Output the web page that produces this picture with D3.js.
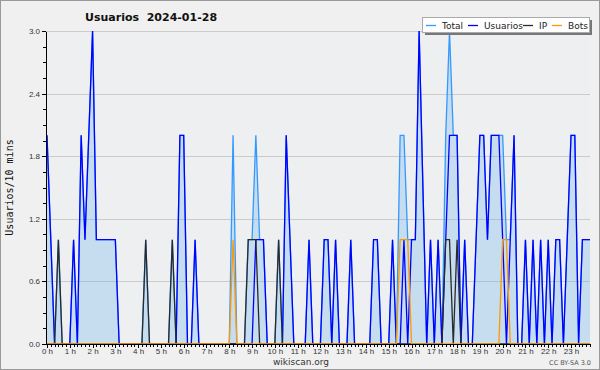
<!DOCTYPE html>
<html><head>
<meta charset="utf-8">
<title>Usuarios 2024-01-28</title>
<script src="https://d3js.org/d3.v7.min.js"></script>
<style>
  body { margin: 0; background: #fff; }
  svg { display: block; font-family: "DejaVu Sans", sans-serif; }
  .axis path, .axis line { stroke: #000; shape-rendering: crispEdges; }
  .axis text { fill: #333; font-size: 8px; }
</style>
</head>
<body>
<div id="chart"></div>
<script>
// 10 minute slots, 144 per day
var hourLabels = ["0 h","1 h","2 h","3 h","4 h","5 h","6 h","7 h","8 h","9 h","10 h","11 h",
  "12 h","13 h","14 h","15 h","16 h","17 h","18 h","19 h","20 h","21 h","22 h","23 h"];
var yTicks = [0, 0.6, 1.2, 1.8, 2.4, 3.0];

var total = [
  2,1,0,1,0,0,0,1,0,2,1,2,
  3,1,1,1,1,1,1,0,0,0,0,0,
  0,0,1,0,0,0,0,0,0,1,0,2,
  2,0,0,1,0,0,0,0,0,0,0,0,
  0,2,0,0,0,1,1,2,1,1,0,0,
  0,1,0,2,1,0,0,0,0,1,0,0,
  0,1,1,0,1,0,0,0,1,0,0,0,
  0,0,1,1,0,0,0,1,0,2,2,1,
  1,1,3,1.5,0,1,0,1,0,2,3,2,
  2,0,1,0,0,1,2,2,1,2,2,2,
  2,1,1,2,0,0,1,0,1,0,1,0,
  1,0,1,1,0,1,2,2,0,1,1,1];
var usuarios = [
  2,1,0,0,0,0,0,1,0,2,1,2,
  3,1,1,1,1,1,1,0,0,0,0,0,
  0,0,0,0,0,0,0,0,0,0,0,2,
  2,0,0,1,0,0,0,0,0,0,0,0,
  0,0,0,0,0,0,0,1,1,1,0,0,
  0,0,0,2,1,0,0,0,0,1,0,0,
  0,1,1,0,1,0,0,0,1,0,0,0,
  0,0,1,1,0,0,0,1,0,0,1,0,
  1,1,3,1.5,0,1,0,1,0,1,2,2,
  2,0,1,0,0,1,2,2,1,2,2,2,
  1,0,1,2,0,0,1,0,1,0,1,0,
  1,0,1,1,0,1,2,2,0,1,1,1];
var ip = [
  0,0,0,1,0,0,0,0,0,0,0,0,
  0,0,0,0,0,0,0,0,0,0,0,0,
  0,0,1,0,0,0,0,0,0,1,0,0,
  0,0,0,0,0,0,0,0,0,0,0,0,
  0,0,0,0,0,1,1,1,0,0,0,0,
  0,1,0,0,0,0,0,0,0,0,0,0,
  0,0,0,0,0,0,0,0,0,0,0,0,
  0,0,0,0,0,0,0,0,0,0,0,0,
  0,0,0,0,0,0,0,0,0,1,1,0,
  1,0,0,0,0,0,0,0,0,0,0,0,
  0,0,0,0,0,0,0,0,0,0,0,0,
  0,0,0,0,0,0,0,0,0,0,0,0];
var bots = [
  0,0,0,0,0,0,0,0,0,0,0,0,
  0,0,0,0,0,0,0,0,0,0,0,0,
  0,0,0,0,0,0,0,0,0,0,0,0,
  0,0,0,0,0,0,0,0,0,0,0,0,
  0,1,0,0,0,0,0,0,0,0,0,0,
  0,0,0,0,0,0,0,0,0,0,0,0,
  0,0,0,0,0,0,0,0,0,0,0,0,
  0,0,0,0,0,0,0,0,0,1,1,1,
  0,0,0,0,0,0,0,0,0,0,0,0,
  0,0,0,0,0,0,0,0,0,0,0,0,
  1,1,0,0,0,0,0,0,0,0,0,0,
  0,0,0,0,0,0,0,0,0,0,0,0];

var seriesNames = ["Total", "Usuarios", "IP", "Bots"];
var seriesColors = ["#3399ff", "#0000ff", "#2a2a2a", "#ff9900"];
var seriesData = [total, usuarios, ip, bots];

var W = 600, H = 370;
var plot = {left: 46, right: 590, top: 31, bottom: 344};

var svg = d3.select("#chart").append("svg")
  .attr("width", W).attr("height", H);

// background + frame
svg.append("rect").attr("x", 0).attr("y", 0).attr("width", W).attr("height", H)
  .attr("fill", "#f0f0f0");
svg.append("rect").attr("x", 0.5).attr("y", 0.5).attr("width", W - 1).attr("height", H - 1)
  .attr("fill", "none").attr("stroke", "#9a9a9a");
svg.append("rect").attr("x", plot.left).attr("y", plot.top)
  .attr("width", plot.right - plot.left).attr("height", plot.bottom - plot.top)
  .attr("fill", "#eeeff0");

var xScale = d3.scaleLinear().domain([0, total.length - 1]).range([plot.left + 1, plot.right]);
var yScale = d3.scaleLinear().domain([0, 3]).range([plot.bottom, plot.top]);

// horizontal grid
svg.append("g").selectAll("line")
  .data(yTicks.filter(function(d) { return d > 0; }))
  .enter().append("line")
  .attr("x1", plot.left).attr("x2", plot.right)
  .attr("y1", function(d) { return Math.round(yScale(d)) + 0.5; })
  .attr("y2", function(d) { return Math.round(yScale(d)) + 0.5; })
  .attr("stroke", "#cbcbcb").attr("stroke-width", 1);

// area under total
var area = d3.area()
  .x(function(d, i) { return xScale(i); })
  .y0(yScale(0))
  .y1(function(d) { return yScale(d); });
svg.append("path").datum(total)
  .attr("d", area)
  .attr("fill", "rgb(105,176,238)").attr("fill-opacity", 0.3);

var line = d3.line()
  .x(function(d, i) { return xScale(i); })
  .y(function(d) { return yScale(d); });

seriesData.forEach(function(s, k) {
  svg.append("path").datum(s)
    .attr("d", line)
    .attr("fill", "none")
    .attr("stroke", seriesColors[k])
    .attr("stroke-width", 1.3)
    .attr("stroke-linejoin", "miter");
});

// y axis: minor ticks every 0.15, labels every 0.6
svg.append("g").attr("class", "axis")
  .attr("transform", "translate(" + plot.left + ",0)")
  .call(d3.axisLeft(yScale).tickValues(d3.range(0, 3.01, 0.15)).tickSize(3).tickFormat(""))
  .call(function(g) { g.select(".domain").remove(); });
svg.append("g").attr("class", "axis")
  .attr("transform", "translate(" + plot.left + ",0)")
  .call(d3.axisLeft(yScale).tickValues(yTicks).tickSize(4).tickSizeOuter(0)
    .tickPadding(2).tickFormat(d3.format(".1f")));

// x axis: a tick per 10 minute slot, a label per hour
svg.append("g").attr("class", "axis")
  .attr("transform", "translate(0," + plot.bottom + ")")
  .call(d3.axisBottom(xScale).tickValues(d3.range(0, 144)).tickSize(3).tickFormat(""))
  .call(function(g) { g.select(".domain").remove(); });
svg.append("g").attr("class", "axis")
  .attr("transform", "translate(0," + plot.bottom + ")")
  .call(d3.axisBottom(xScale).tickValues(hourLabels.map(function(d, i) { return i * 6; }))
    .tickSize(4).tickSizeOuter(0).tickPadding(0)
    .tickFormat(function(d) { return hourLabels[d / 6]; }))
  .call(function(g) {
    g.select(".domain").attr("d", "M" + plot.left + ",0.5H" + plot.right);
  });

// titles
svg.append("text").attr("x", 85).attr("y", 21)
  .attr("font-size", 11).attr("font-weight", "bold").attr("fill", "#111")
  .attr("xml:space", "preserve")
  .text("Usuarios  2024-01-28");

svg.append("text")
  .attr("transform", "translate(13," + ((plot.top + plot.bottom) / 2) + ") rotate(-90)")
  .attr("text-anchor", "middle").attr("font-size", 10).attr("fill", "#111")
  .attr("font-family", "DejaVu Sans Mono, monospace")
  .text("Usuarios/10 mins");

svg.append("text").attr("x", 301).attr("y", 365)
  .attr("text-anchor", "middle").attr("font-size", 9).attr("fill", "#333")
  .text("wikiscan.org");
svg.append("text").attr("x", 591).attr("y", 365)
  .attr("text-anchor", "end").attr("font-size", 6.5).attr("fill", "#555")
  .text("CC BY-SA 3.0");

// legend
var lg = svg.append("g").attr("transform", "translate(422,17)");
lg.append("rect").attr("x", 3).attr("y", 3).attr("width", 167).attr("height", 15)
  .attr("fill", "#777");
lg.append("rect").attr("x", 0.5).attr("y", 0.5).attr("width", 167).attr("height", 15)
  .attr("fill", "#fff").attr("stroke", "#aaa");
var legendX = [4, 46, 101, 130];
seriesNames.forEach(function(name, k) {
  lg.append("line")
    .attr("x1", legendX[k]).attr("x2", legendX[k] + 10)
    .attr("y1", 8.5).attr("y2", 8.5)
    .attr("stroke", seriesColors[k]).attr("stroke-width", 1.3);
  lg.append("text").attr("x", legendX[k] + 16).attr("y", 11.5)
    .attr("font-size", 9).attr("fill", "#222")
    .text(name);
});
</script>
</body></html>
